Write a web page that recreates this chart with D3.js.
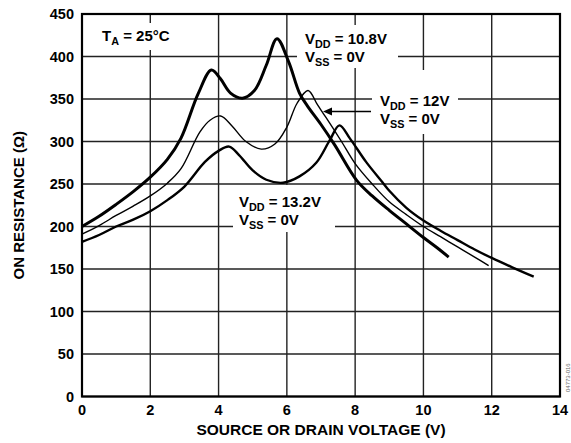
<!DOCTYPE html>
<html>
<head>
<meta charset="utf-8">
<script src="https://cdn.jsdelivr.net/npm/d3@7"></script>
<style>
html,body{margin:0;padding:0;background:#fff;}
svg{display:block;}
text{font-family:"Liberation Sans",Arial,Helvetica,sans-serif;font-weight:bold;fill:#000;}
</style>
</head>
<body>
<svg id="chart" width="571" height="443"></svg>
<script>
// ---- data ----
const xTicks = [0, 2, 4, 6, 8, 10, 12, 14];
const yTicks = [0, 50, 100, 150, 200, 250, 300, 350, 400, 450];
const xTitle = "SOURCE OR DRAIN VOLTAGE (V)";
const yTitle = "ON RESISTANCE (Ω)";

// VDD = 10.8V (thick)
const vdd108 = [[0,200],[0.5,212],[1,226],[1.5,241],[2,258],[2.5,279],[2.9,304],[3.4,356],[3.79,384],[4.05,374],[4.35,357],[4.7,351],[5.05,360],[5.4,390],[5.71,421],[6.05,394],[6.37,357],[6.6,342],[7.0,320],[7.4,296],[8.05,254],[8.5,236],[9.0,219],[9.5,203],[10.0,187],[10.4,175],[10.74,164]];
// VDD = 12V (thin)
const vdd12 = [[0,191],[0.5,201],[1,213],[1.5,224],[2,236],[2.5,251],[2.9,268],[3.45,311],[3.75,325],[4.06,330],[4.4,318],[4.8,300],[5.25,291],[5.65,297],[6.0,317],[6.3,345],[6.62,360],[6.9,343],[7.15,328],[7.6,300],[8.0,274],[8.5,250],[9.0,229],[9.5,214],[10.0,200],[10.5,188],[11.0,176],[11.5,164],[11.91,154]];
// VDD = 13.2V (medium)
const vdd132 = [[0,182],[0.5,190],[1,200],[1.5,208],[2,218],[2.5,231],[3.0,247],[3.6,276],[4.0,289],[4.31,294],[4.6,284],[5.0,266],[5.4,255],[5.89,251.5],[6.37,259],[6.86,275],[7.25,301],[7.54,319],[7.84,304],[8.32,276],[8.8,252],[9.0,242],[9.5,222],[10.0,207],[10.5,195],[11.0,184],[11.5,173],[12.0,163],[12.6,152],[13.23,141]];

// ---- layout ----
const L = 82, R = 560, T = 14, B = 396.5;
const svg = d3.select("#chart");
const x = d3.scaleLinear().domain([0, 14]).range([L, R]);
const y = d3.scaleLinear().domain([0, 450]).range([B, T]);

// grid
const grid = svg.append("g");
grid.selectAll("line.v").data(xTicks).enter().append("line")
  .attr("x1", d => x(d)).attr("x2", d => x(d)).attr("y1", T).attr("y2", B)
  .attr("stroke", "#222").attr("stroke-width", 1.4);
grid.selectAll("line.h").data(yTicks).enter().append("line")
  .attr("x1", L).attr("x2", R).attr("y1", d => y(d)).attr("y2", d => y(d))
  .attr("stroke", "#222").attr("stroke-width", 1.4);

// white boxes behind labels
const boxes = [[95,23,85,27],[297,25,101,43],[372,70,86,64],[233,185,102,47]];
svg.selectAll("rect.box").data(boxes).enter().append("rect")
  .attr("x", d => d[0]).attr("y", d => d[1]).attr("width", d => d[2]).attr("height", d => d[3])
  .attr("fill", "#fff");

// curves
const line = d3.line().x(d => x(d[0])).y(d => y(d[1])).curve(d3.curveCatmullRom.alpha(0.5));
svg.append("path").datum(vdd108).attr("d", line).attr("fill", "none").attr("stroke", "#000").attr("stroke-width", 3).attr("stroke-linejoin", "round");
svg.append("path").datum(vdd12).attr("d", line).attr("fill", "none").attr("stroke", "#000").attr("stroke-width", 1.4).attr("stroke-linejoin", "round");
svg.append("path").datum(vdd132).attr("d", line).attr("fill", "none").attr("stroke", "#000").attr("stroke-width", 2.4).attr("stroke-linejoin", "round");

// border
svg.append("rect").attr("x", L).attr("y", T).attr("width", R - L).attr("height", B - T)
  .attr("fill", "none").attr("stroke", "#000").attr("stroke-width", 2.2);

// tick labels
svg.selectAll("text.xt").data(xTicks).enter().append("text")
  .attr("x", d => x(d)).attr("y", 415).attr("text-anchor", "middle")
  .style("font-size", "14.5px").text(d => d);
svg.selectAll("text.yt").data(yTicks).enter().append("text")
  .attr("x", 74).attr("y", d => y(d) + 5).attr("text-anchor", "end")
  .style("font-size", "14.5px").text(d => d);

// axis titles
svg.append("text").attr("x", (L + R) / 2).attr("y", 435).attr("text-anchor", "middle")
  .style("font-size", "15.5px").text(xTitle);
svg.append("text").attr("transform", `translate(24,${(T + B) / 2}) rotate(-90)`)
  .attr("text-anchor", "middle").style("font-size", "15px").text(yTitle);

// labels with subscripts
function subLabel(px, py, main, sub, rest, fs) {
  const t = svg.append("text").attr("x", px).attr("y", py).style("font-size", fs + "px");
  t.append("tspan").text(main);
  t.append("tspan").attr("dy", 4).style("font-size", (fs * 0.72) + "px").text(sub);
  t.append("tspan").attr("dy", -4).text(rest);
}
subLabel(102, 41, "T", "A", " = 25°C", 15);
subLabel(305, 43.5, "V", "DD", " = 10.8V", 15);
subLabel(305, 61.5, "V", "SS", " = 0V", 15);
subLabel(380, 106, "V", "DD", " = 12V", 15);
subLabel(380, 124, "V", "SS", " = 0V", 15);
subLabel(239, 207, "V", "DD", " = 13.2V", 15);
subLabel(239, 225, "V", "SS", " = 0V", 15);

// arrow
svg.append("line").attr("x1", 371).attr("y1", 111.5).attr("x2", 330).attr("y2", 111.5)
  .attr("stroke", "#000").attr("stroke-width", 1.6);
svg.append("path").attr("d", "M323,111.5 L332,107.5 L332,115.5 Z").attr("fill", "#000");

// figure code
svg.append("text").attr("transform", "translate(570,392) rotate(-90)")
  .style("font-size", "6px").style("font-weight", "normal").style("fill", "#666").text("04773-016");
</script>
</body>
</html>
